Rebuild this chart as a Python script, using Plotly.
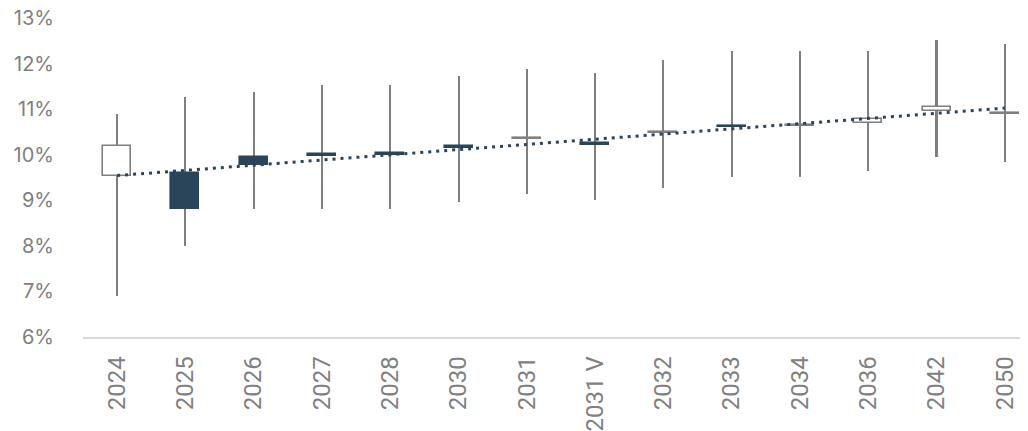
import numpy as np
import plotly.graph_objects as go

categories = ["2024", "2025", "2026", "2027", "2028", "2030", "2031",
              "2031 V", "2032", "2033", "2034", "2036", "2042", "2050"]
open_vals  = [9.53, 9.59, 9.94, 10.02, 10.03, 10.20, 10.34, 10.25, 10.47, 10.64, 10.63, 10.70, 10.96, 10.90]
close_vals = [10.19, 8.81, 9.77, 9.98, 10.00, 10.14, 10.36, 10.22, 10.49, 10.60, 10.65, 10.78, 11.05, 10.92]
high_vals  = [10.89, 11.27, 11.38, 11.53, 11.53, 11.73, 11.88, 11.80, 12.08, 12.28, 12.28, 12.28, 12.52, 12.43]
low_vals   = [6.90, 8.00, 8.81, 8.81, 8.81, 8.96, 9.14, 9.00, 9.27, 9.51, 9.51, 9.64, 9.95, 9.84]
y_ticks = [6, 7, 8, 9, 10, 11, 12, 13]
y_tick_labels = [f"{v}%" for v in y_ticks]

GRAY = "#7f7f7f"
NAVY = "#2a4459"

base = [min(o, c) for o, c in zip(open_vals, close_vals)]
height = [abs(c - o) for o, c in zip(open_vals, close_vals)]
up = [c >= o for o, c in zip(open_vals, close_vals)]
fill = ["#ffffff" if u else NAVY for u in up]
edge = [GRAY if u else NAVY for u in up]

idx = np.arange(len(categories))
slope, intercept = np.polyfit(idx, close_vals, 1)
trend = intercept + slope * idx

fig = go.Figure()
# whiskers (high-low)
fig.add_trace(go.Bar(
    x=categories, base=low_vals,
    y=[h - l for h, l in zip(high_vals, low_vals)],
    width=0.03, marker=dict(color=GRAY, line=dict(width=0)),
    showlegend=False, hoverinfo="skip"))
# bodies (open-close)
fig.add_trace(go.Bar(
    x=categories, base=base, y=height, width=0.41,
    marker=dict(color=fill, line=dict(color=edge, width=1.6)),
    showlegend=False))
# linear trendline
fig.add_trace(go.Scatter(
    x=[categories[0], categories[-1]], y=[trend[0], trend[-1]],
    mode="lines", line=dict(color=NAVY, width=3, dash="3px,5px"),
    showlegend=False, hoverinfo="skip"))

# page body has an 8px default margin, so the figure is 8px smaller
fig.update_layout(
    width=1020, height=423,
    margin=dict(l=75, r=0, t=10, b=94, autoexpand=False),
    paper_bgcolor="white", plot_bgcolor="white",
    barmode="overlay", bargap=0,
    showlegend=False,
)
fig.update_xaxes(
    type="category", range=[-0.5, 13.34], automargin=False,
    showgrid=False, showline=True, linecolor="#d9d9d9", linewidth=1.5,
    ticks="", tickangle=-90, ticklabeloverflow="allow",
    tickfont=dict(family="Roboto", size=24, color="#808080"),
    ticklabelstandoff=8,
)
fig.update_yaxes(
    range=[6, 13], tickvals=y_ticks, ticktext=y_tick_labels, automargin=False,
    showgrid=False, zeroline=False, showline=False, ticklabeloverflow="allow",
    tickfont=dict(family="Inter", size=20, color="#808080"),
    ticklabelstandoff=28,
)
fig.write_html("out.html")
